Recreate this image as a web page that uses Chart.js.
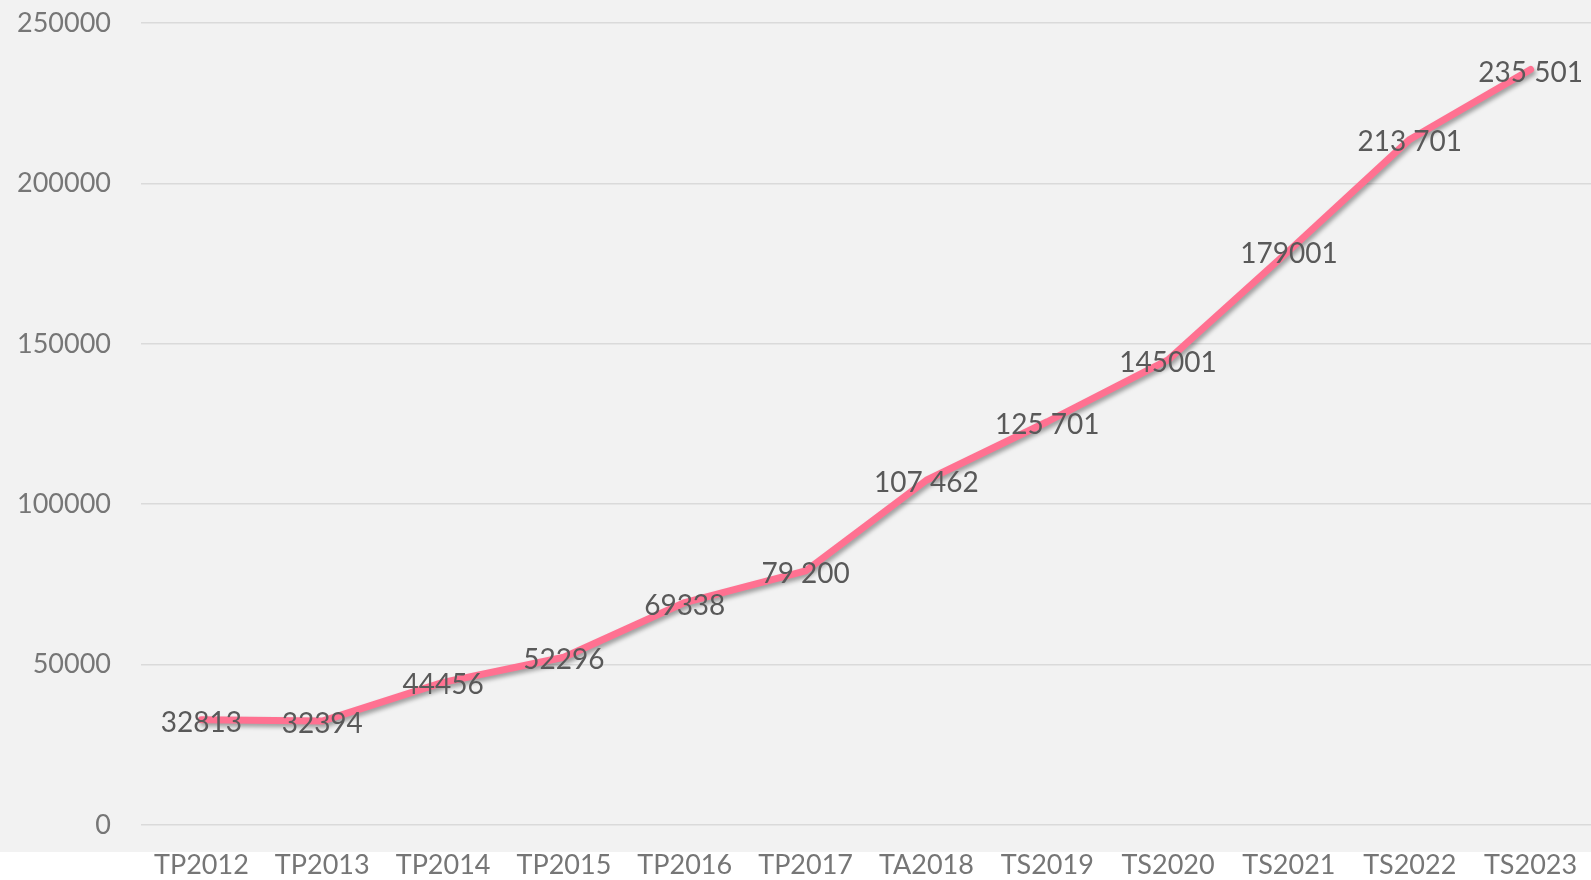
<!DOCTYPE html>
<html>
<head>
<meta charset="utf-8">
<script src="https://cdn.jsdelivr.net/npm/chart.js@4/dist/chart.umd.min.js"></script>
<style>
    html, body { margin: 0; padding: 0; background: #ffffff; overflow: hidden; }
    #wrap { width: 1591px; height: 880px; }
</style>
</head>
<body>
<div id="wrap"><canvas id="lineChart"></canvas></div>
<script>
// Données du graphique
const categories = ['TP2012', 'TP2013', 'TP2014', 'TP2015', 'TP2016', 'TP2017',
                    'TA2018', 'TS2019', 'TS2020', 'TS2021', 'TS2022', 'TS2023'];
const values = [32813, 32394, 44456, 52296, 69338, 79200,
                107462, 125701, 145001, 179001, 213701, 235501];
// Étiquettes telles qu'affichées (format mixte dans l'original)
const valueLabels = ['32813', '32394', '44456', '52296', '69338', '79 200',
                     '107 462', '125 701', '145001', '179001', '213 701', '235 501'];
const yTicks = [0, 50000, 100000, 150000, 200000, 250000];

const FONT = 'Lato, "Open Sans", sans-serif';

// Fond gris de la zone du graphique
const backgroundPlugin = {
    id: 'grayBackground',
    beforeDraw(chart) {
        const ctx = chart.ctx;
        ctx.save();
        ctx.fillStyle = '#f2f2f2';
        ctx.fillRect(0, 0, chart.width, 852);
        ctx.restore();
    }
};

// Ombre portée sous la courbe
const shadowPlugin = {
    id: 'lineShadow',
    beforeDatasetDraw(chart) {
        const ctx = chart.ctx;
        ctx.save();
        ctx.shadowColor = 'rgba(0, 0, 0, 0.35)';
        ctx.shadowBlur = 4;
        ctx.shadowOffsetX = 2;
        ctx.shadowOffsetY = 3;
    },
    afterDatasetDraw(chart) {
        chart.ctx.restore();
    }
};

// Étiquettes de données centrées sur chaque point
const labelsPlugin = {
    id: 'valueLabels',
    afterDatasetsDraw(chart) {
        const ctx = chart.ctx;
        const meta = chart.getDatasetMeta(0);
        ctx.save();
        ctx.font = '28px ' + FONT;
        ctx.fillStyle = '#595959';
        ctx.textAlign = 'center';
        ctx.textBaseline = 'middle';
        meta.data.forEach((pt, i) => {
            ctx.fillText(valueLabels[i], pt.x, pt.y + 3);
        });
        ctx.restore();
    }
};

new Chart(document.getElementById('lineChart'), {
    type: 'line',
    data: {
        labels: categories,
        datasets: [{
            data: values,
            borderColor: '#ff7191',
            borderWidth: 7,
            pointRadius: 0,
            pointHoverRadius: 0,
            tension: 0,
            fill: false,
            borderCapStyle: 'round',
            borderJoinStyle: 'round'
        }]
    },
    options: {
        responsive: true,
        maintainAspectRatio: false,
        animation: false,
        layout: { padding: { top: 23, right: 0, left: 0, bottom: 0 } },
        plugins: {
            legend: { display: false },
            tooltip: { enabled: false }
        },
        scales: {
            x: {
                offset: true,
                grid: { display: false, drawTicks: false },
                border: { display: false },
                ticks: {
                    color: '#767676',
                    font: { family: FONT, size: 27 },
                    padding: 24,
                    maxRotation: 0,
                    autoSkip: false
                },
                afterFit(scale) {
                    scale.height = 55;
                    scale.paddingLeft = 0;
                    scale.paddingRight = 0;
                }
            },
            y: {
                min: 0,
                max: 250000,
                afterBuildTicks(scale) {
                    scale.ticks = yTicks.map(v => ({ value: v }));
                },
                grid: { color: '#dadada', lineWidth: 1.5, drawTicks: false },
                border: { display: false },
                ticks: {
                    color: '#767676',
                    font: { family: FONT, size: 27 },
                    padding: 30,
                    callback: v => String(v)
                },
                afterFit(scale) {
                    scale.width = 141;
                    scale.paddingTop = 0;
                    scale.paddingBottom = 0;
                }
            }
        }
    },
    plugins: [backgroundPlugin, shadowPlugin, labelsPlugin]
});
</script>
</body>
</html>
